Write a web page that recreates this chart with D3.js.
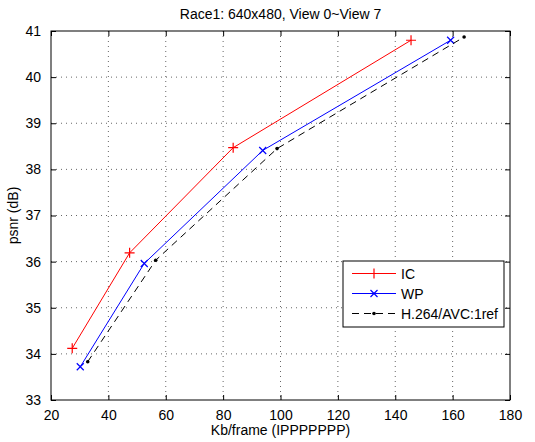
<!DOCTYPE html>
<html>
<head>
<meta charset="utf-8">
<script src="https://cdn.jsdelivr.net/npm/d3@7"></script>
<style>
  body { margin: 0; background: #fff; }
  text { font-family: "Liberation Sans", Arial, sans-serif; font-size: 14px; fill: #000; }
</style>
</head>
<body>
<div id="chart"></div>
<script>
// data
var icRate   = [27.4, 47.4, 83.5, 145.5];
var icPsnr   = [34.12, 36.19, 38.47, 40.8];
var wpRate   = [30.2, 52.5, 93.8, 159.3];
var wpPsnr   = [33.72, 35.96, 38.41, 40.8];
var avcRate  = [32.8, 56.5, 98.8, 164.0];
var avcPsnr  = [33.83, 36.03, 38.45, 40.87];
var seriesNames = ["IC", "WP", "H.264/AVC:1ref"];
var xTicks = [20, 40, 60, 80, 100, 120, 140, 160, 180];
var yTicks = [33, 34, 35, 36, 37, 38, 39, 40, 41];

var margin = {top: 31, right: 25, bottom: 42, left: 51},
    width = 535 - margin.left - margin.right,
    height = 442 - margin.top - margin.bottom;

var svg = d3.select("#chart")
  .append("svg")
    .attr("width", 535)
    .attr("height", 442)
  .append("g")
    .attr("transform", "translate(" + margin.left + "," + margin.top + ")");

var x = d3.scaleLinear().domain([20, 180]).range([0, width]);
var y = d3.scaleLinear().domain([33, 41]).range([height, 0]);

// grid
svg.append("g").selectAll("line")
  .data(xTicks.slice(1, -1))
  .enter().append("line")
    .attr("x1", d => x(d)).attr("x2", d => x(d))
    .attr("y1", 0).attr("y2", height)
    .attr("stroke", "#000").attr("stroke-width", 0.6)
    .attr("stroke-dasharray", "1,4");
svg.append("g").selectAll("line")
  .data(yTicks.slice(1, -1))
  .enter().append("line")
    .attr("y1", d => y(d)).attr("y2", d => y(d))
    .attr("x1", 0).attr("x2", width)
    .attr("stroke", "#000").attr("stroke-width", 0.6)
    .attr("stroke-dasharray", "1,4");

// axes, matlab style ticks pointing inward
svg.append("g")
  .attr("transform", "translate(0," + height + ")")
  .call(d3.axisBottom(x).tickValues(xTicks).tickSizeInner(-5).tickSizeOuter(0).tickPadding(10))
  .call(g => g.select(".domain").remove());
svg.append("g")
  .call(d3.axisTop(x).tickValues(xTicks).tickSizeInner(-5).tickSizeOuter(0).tickFormat(""))
  .call(g => g.select(".domain").remove());
svg.append("g")
  .call(d3.axisLeft(y).tickValues(yTicks).tickSizeInner(-5).tickSizeOuter(0).tickPadding(10))
  .call(g => g.select(".domain").remove());
svg.append("g")
  .attr("transform", "translate(" + width + ",0)")
  .call(d3.axisRight(y).tickValues(yTicks).tickSizeInner(-5).tickSizeOuter(0).tickFormat(""))
  .call(g => g.select(".domain").remove());
svg.selectAll(".tick text").style("font-size", "14px").attr("font-family", null);

svg.append("rect")
  .attr("width", width).attr("height", height)
  .attr("fill", "none").attr("stroke", "#000").attr("stroke-width", 1);

// series
var series = [
  {name: seriesNames[0], xs: icRate, ys: icPsnr, color: "#ff0000", dash: null, marker: "plus"},
  {name: seriesNames[1], xs: wpRate, ys: wpPsnr, color: "#0000ff", dash: null, marker: "cross"},
  {name: seriesNames[2], xs: avcRate, ys: avcPsnr, color: "#000", dash: "7,5", marker: "dot"}
];

var line = d3.line().x(d => x(d[0])).y(d => y(d[1]));

function drawMarker(g, type, color) {
  if (type == "plus") {
    g.append("path").attr("d", "M-5,0H5M0,-5V5").attr("stroke", color).attr("stroke-width", 1.2);
  } else if (type == "cross") {
    g.append("path").attr("d", "M-3.5,-3.5L3.5,3.5M-3.5,3.5L3.5,-3.5").attr("stroke", color).attr("stroke-width", 1.2);
  } else {
    g.append("circle").attr("r", 1.8).attr("fill", color);
  }
}

series.forEach(function(s) {
  var pts = s.xs.map((v, i) => [v, s.ys[i]]);
  svg.append("path")
    .datum(pts)
    .attr("d", line)
    .attr("fill", "none")
    .attr("stroke", s.color)
    .attr("stroke-width", 1)
    .attr("stroke-dasharray", s.dash);
  pts.forEach(function(p) {
    var g = svg.append("g").attr("transform", "translate(" + x(p[0]) + "," + y(p[1]) + ")");
    drawMarker(g, s.marker, s.color);
  });
});

// legend
var legend = svg.append("g").attr("transform", "translate(" + (343 - margin.left) + "," + (261 - margin.top) + ")");
legend.append("rect")
  .attr("width", 161).attr("height", 66)
  .attr("fill", "#fff").attr("stroke", "#000").attr("stroke-width", 1);
series.forEach(function(s, i) {
  var ly = 12.5 + i * 20;
  legend.append("line")
    .attr("x1", 9).attr("x2", 53).attr("y1", ly).attr("y2", ly)
    .attr("stroke", s.color).attr("stroke-width", 1)
    .attr("stroke-dasharray", s.dash);
  var g = legend.append("g").attr("transform", "translate(31," + ly + ")");
  drawMarker(g, s.marker, s.color);
  legend.append("text")
    .attr("x", 58).attr("y", ly + 5)
    .text(s.name);
});

// labels
svg.append("text")
  .attr("x", width / 2).attr("y", -12)
  .attr("text-anchor", "middle")
  .text("Race1: 640x480, View 0~View 7");
svg.append("text")
  .attr("x", width / 2).attr("y", height + 35)
  .attr("text-anchor", "middle")
  .text("Kb/frame (IPPPPPPP)");
svg.append("text")
  .attr("transform", "translate(" + (-33) + "," + (height / 2) + ")rotate(-90)")
  .attr("text-anchor", "middle")
  .text("psnr (dB)");
</script>
</body>
</html>
